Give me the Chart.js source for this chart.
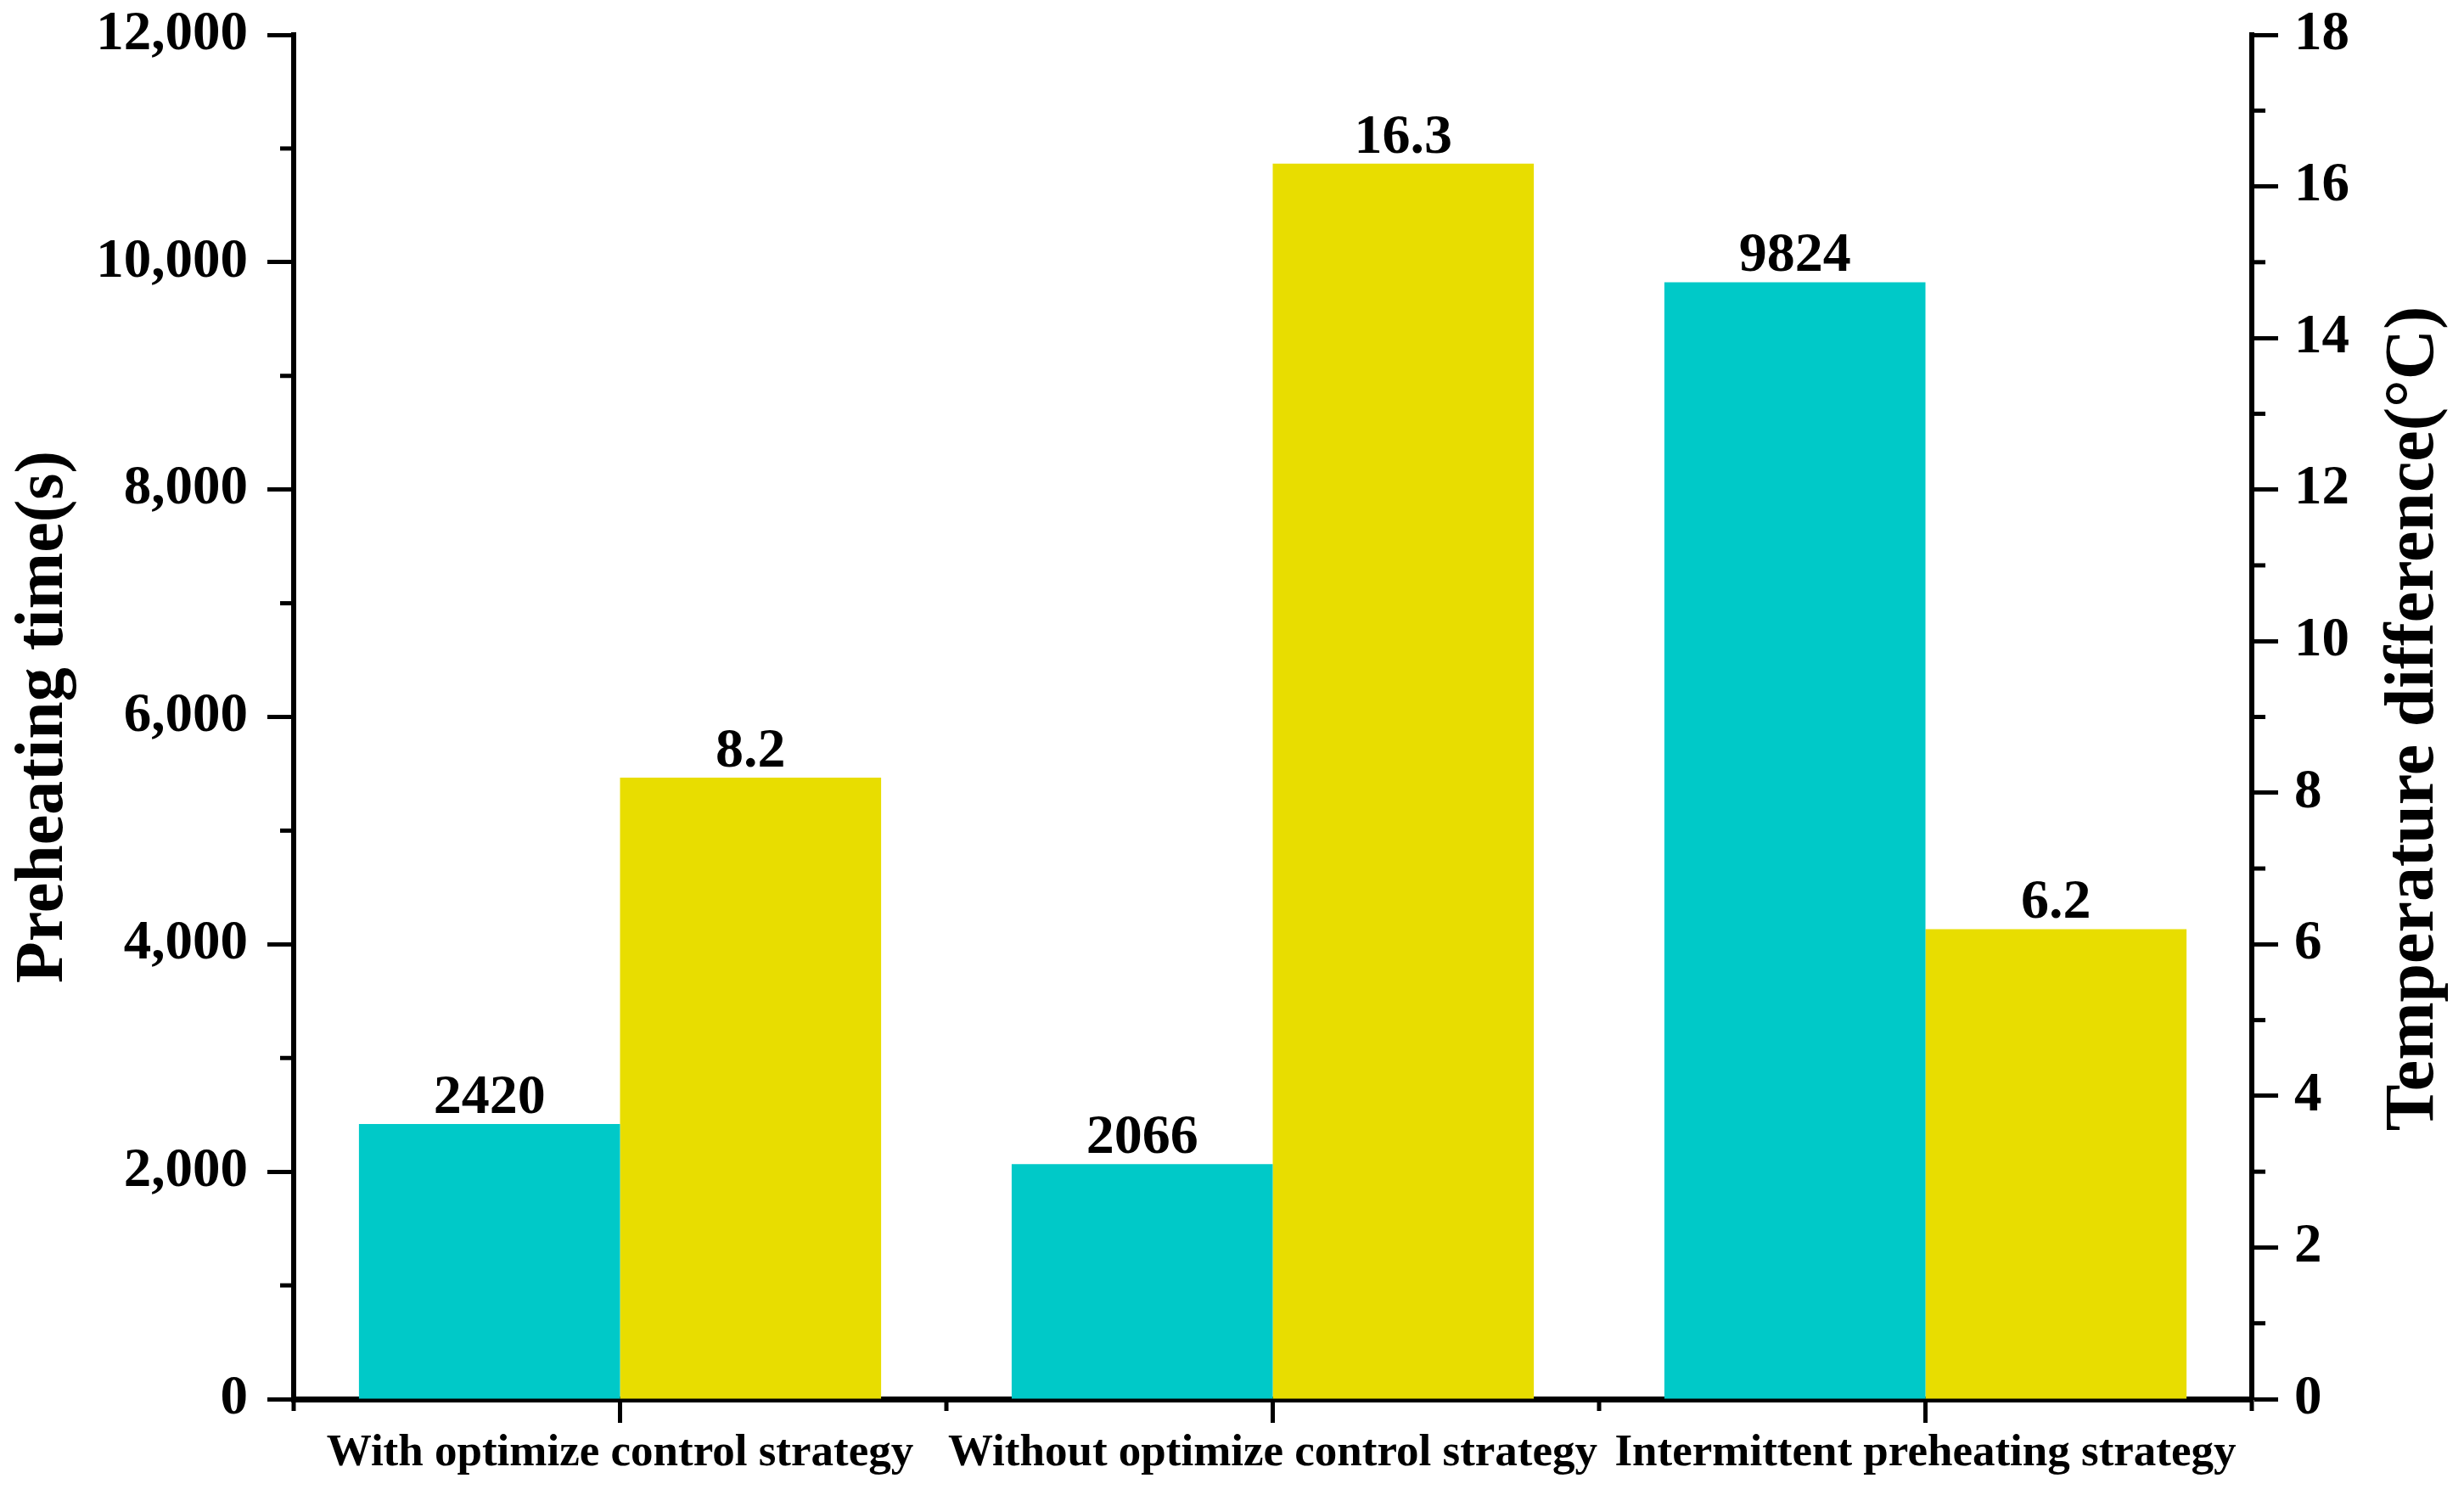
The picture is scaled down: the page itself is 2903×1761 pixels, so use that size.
<!DOCTYPE html>
<html>
<head>
<meta charset="utf-8">
<script src="https://cdn.jsdelivr.net/npm/chart.js@4.4.0/dist/chart.umd.min.js"></script>
<style>
  html, body { margin: 0; padding: 0; background: #fff; }
  #wrap { width: 2903px; height: 1761px; }
</style>
</head>
<body>
<div id="wrap"><canvas id="chart" width="2903" height="1761"></canvas></div>
<script>
// ---- DATA ----
const categories = ['With optimize control strategy', 'Without optimize control strategy', 'Intermittent preheating strategy'];
const preheatTime = [2420, 2066, 9824];       // left axis, s
const tempDiff = [8.2, 16.3, 6.2];            // right axis, °C
const preheatLabels = ['2420', '2066', '9824'];
const tempLabels = ['8.2', '16.3', '6.2'];

const FONT = "'Times New Roman', 'Liberation Serif', serif";
const BLACK = '#000';

// ---- PLUGIN: minor ticks, bar labels, right title ----
const extras = {
  id: 'extras',
  afterDraw(chart) {
    const ctx = chart.ctx;
    const area = chart.chartArea;
    const yL = chart.scales.y, yR = chart.scales.y1, x = chart.scales.x;

    ctx.save();
    ctx.strokeStyle = BLACK;
    ctx.lineWidth = 5;

    // minor ticks on value axes (midpoints of major ticks)
    function minors(scale, side) {
      const t = scale.ticks;
      for (let i = 0; i < t.length - 1; i++) {
        const v = (t[i].value + t[i + 1].value) / 2;
        const p = scale.getPixelForValue(v);
        ctx.beginPath();
        if (side === 'left') { ctx.moveTo(area.left, p); ctx.lineTo(area.left - 16, p); }
        else { ctx.moveTo(area.right, p); ctx.lineTo(area.right + 16, p); }
        ctx.stroke();
      }
    }
    minors(yL, 'left');
    minors(yR, 'right');

    // minor ticks on x axis at category boundaries
    for (let i = 0; i <= categories.length; i++) {
      const p = x.getPixelForValue(i - 0.5);
      ctx.beginPath();
      ctx.moveTo(p, area.bottom);
      ctx.lineTo(p, area.bottom + 14);
      ctx.stroke();
    }

    // bar value labels
    ctx.fillStyle = BLACK;
    ctx.font = 'bold 66px ' + FONT;
    ctx.textAlign = 'center';
    ctx.textBaseline = 'alphabetic';
    const labelSets = [preheatLabels, tempLabels];
    chart.data.datasets.forEach((ds, di) => {
      chart.getDatasetMeta(di).data.forEach((bar, i) => {
        ctx.fillText(labelSets[di][i], bar.x, bar.y - 13);
      });
    });

    // right axis title, reading bottom to top
    ctx.font = 'bold 82px ' + FONT;
    ctx.translate(yR.right - 58, (area.top + area.bottom) / 2 + 2);
    ctx.rotate(-Math.PI / 2);
    ctx.textBaseline = 'middle';
    ctx.fillText('Temperature difference(°C)', 0, 0);
    ctx.restore();
  }
};

// ---- CHART ----
const tickFont = { family: FONT, size: 65, weight: 'bold' };

// fixed axis box sizes; drop the label overflow padding so layout.padding rules
function fixY(width) {
  return s => { s.width = width; s.paddingTop = 0; s.paddingBottom = 0; };
}

new Chart(document.getElementById('chart'), {
  type: 'bar',
  data: {
    labels: categories,
    datasets: [
      {
        label: 'Preheating time(s)',
        data: preheatTime,
        backgroundColor: '#00C9C8',
        yAxisID: 'y',
        categoryPercentage: 0.8,
        barPercentage: 1.0
      },
      {
        label: 'Temperature difference(°C)',
        data: tempDiff,
        backgroundColor: '#E8DD00',
        yAxisID: 'y1',
        categoryPercentage: 0.8,
        barPercentage: 1.0
      }
    ]
  },
  options: {
    responsive: false,
    devicePixelRatio: 1,
    animation: false,
    layout: { padding: { top: 41, left: 0, right: 0, bottom: 0 } },
    plugins: {
      legend: { display: false },
      tooltip: { enabled: false }
    },
    scales: {
      x: {
        offset: true,
        grid: { drawOnChartArea: false, offset: false, tickLength: 28, tickWidth: 5, tickColor: BLACK },
        border: { display: true, color: BLACK, width: 7 },
        ticks: { color: BLACK, font: { family: FONT, size: 53, weight: 'bold' }, padding: 5, maxRotation: 0, autoSkip: false },
        afterFit: s => { s.height = 1761 - 1648; s.paddingLeft = 0; s.paddingRight = 0; }
      },
      y: {
        position: 'left',
        min: 0,
        max: 12000,
        grid: { drawOnChartArea: false, tickLength: 31, tickWidth: 5, tickColor: BLACK },
        border: { display: true, color: BLACK, width: 6 },
        ticks: {
          stepSize: 2000,
          color: BLACK,
          font: tickFont,
          padding: 23,
          callback: v => v.toLocaleString('en-US')
        },
        title: {
          display: true,
          text: 'Preheating time(s)',
          color: BLACK,
          font: { family: FONT, size: 80, weight: 'bold' },
          padding: { top: 4, bottom: 0 }
        },
        afterFit: fixY(346)
      },
      y1: {
        position: 'right',
        min: 0,
        max: 18,
        grid: { drawOnChartArea: false, tickLength: 31, tickWidth: 5, tickColor: BLACK },
        border: { display: true, color: BLACK, width: 6 },
        ticks: { stepSize: 2, color: BLACK, font: tickFont, padding: 19 },
        afterFit: fixY(2903 - 2653)
      }
    }
  },
  plugins: [extras]
});
</script>
</body>
</html>
